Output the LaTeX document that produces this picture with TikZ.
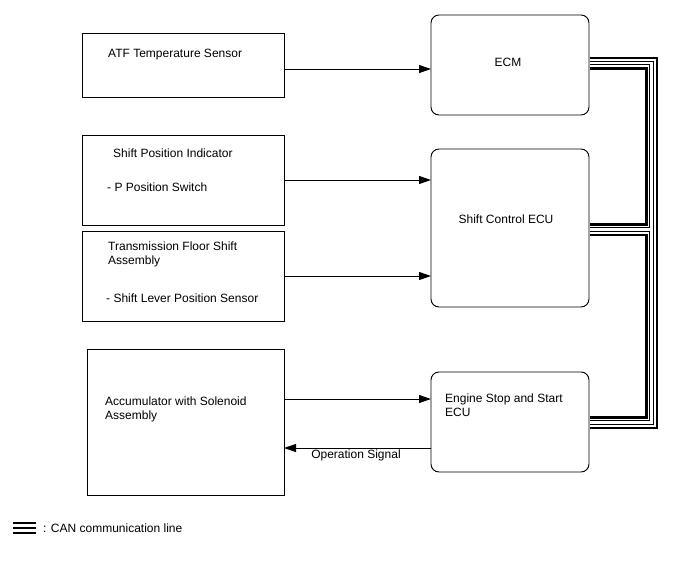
\documentclass[tikz,border=0pt]{standalone}
\usepackage{fontspec}
\setmainfont{Liberation Sans}
\usetikzlibrary{arrows.meta}
\begin{document}
\begin{tikzpicture}[x=1pt,y=-1pt,
 box/.style={draw,line width=0.95pt,inner sep=0pt,outer sep=0pt,anchor=north west},
 ecu/.style={box,rounded corners=8pt},
 txt/.style={font=\fontsize{12}{14}\selectfont,inner sep=0pt,anchor=base west},
 ctxt/.style={txt,anchor=base},
 sig/.style={line width=1pt,-{Triangle[length=12pt,width=8pt]}},
 busA/.style={line width=13pt,black,line join=miter,line cap=butt},
 busB/.style={line width=8pt,white,line join=miter,line cap=butt},
 busC/.style={line width=4.5pt,black,line join=miter,line cap=butt},
 busD/.style={line width=2.5pt,white,line join=miter,line cap=butt},
]
\useasboundingbox (0,0) rectangle (688,560);

% left boxes
\node[box,minimum width=202pt,minimum height=64pt] (atf) at (82,33) {};
\node[box,minimum width=202pt,minimum height=90pt] (spi) at (82,135) {};
\node[box,minimum width=202pt,minimum height=90pt] (tfs) at (82,231) {};
\node[box,minimum width=197pt,minimum height=146pt] (acc) at (87,349) {};

\node[txt] (t1) at (108,57) {ATF Temperature Sensor};
\node[txt] (t2) at (113,157) {Shift Position Indicator};
\node[txt] (t3) at (107,191) {- P Position Switch};
\node[txt] (t4) at (108,250) {Transmission Floor Shift};
\node[txt] (t5) at (108,264) {Assembly};
\node[txt] (t6) at (106,302) {- Shift Lever Position Sensor};
\node[txt] (t7) at (105,405) {Accumulator with Solenoid};
\node[txt] (t8) at (105,419) {Assembly};

% ECUs
\node[ecu,minimum width=158pt,minimum height=100pt] (ecm) at (431,15) {};
\node[ecu,minimum width=158pt,minimum height=158pt] (scu) at (431,149) {};
\node[ecu,minimum width=158pt,minimum height=100pt] (eng) at (431,372) {};

\node[ctxt] (t9) at (508,66) {ECM};
\node[ctxt] (t10) at (506,223) {Shift Control ECU};
\node[txt] (t11) at (445,402) {Engine Stop and Start};
\node[txt] (t12) at (445,416) {ECU};

% signal arrows
\coordinate (y1) at (0,69);
\coordinate (y2) at (0,180);
\coordinate (y3) at (0,276);
\coordinate (y4) at (0,399);
\coordinate (y5) at (0,448);
\draw[sig] (atf.east |- y1) -- (ecm.west |- y1);
\draw[sig] (spi.east |- y2) -- (scu.west |- y2);
\draw[sig] (tfs.east |- y3) -- (scu.west |- y3);
\draw[sig] (acc.east |- y4) -- (eng.west |- y4);
\draw[sig] (eng.west |- y5) -- (acc.east |- y5);
\node[ctxt] (t13) at (356,458) {Operation Signal};

% CAN bus
\coordinate (b1) at (651.5,63);
\coordinate (b2) at (651.5,229.5);
\coordinate (b3) at (651.5,422.5);
\foreach \s in {busA,busB,busC,busD}{
  \draw[\s] ([xshift=0.5pt]ecm.east |- b1) -- (b1) -- (b3) -- ([xshift=0.5pt]eng.east |- b3);
  \draw[\s] (b2) -- ([xshift=0.5pt]scu.east |- b2);
}

% legend
\coordinate (l1) at (13,523);
\coordinate (l2) at (36,523);
\coordinate (l3) at (13,528);
\coordinate (l4) at (36,528);
\coordinate (l5) at (13,533);
\coordinate (l6) at (36,533);
\draw[line width=2.2pt] (l1) -- (l2);
\draw[line width=1.8pt] (l3) -- (l4);
\draw[line width=2.8pt] (l5) -- (l6);
\node[txt] (t14) at (43,532) {: CAN communication line};
\end{tikzpicture}
\end{document}
